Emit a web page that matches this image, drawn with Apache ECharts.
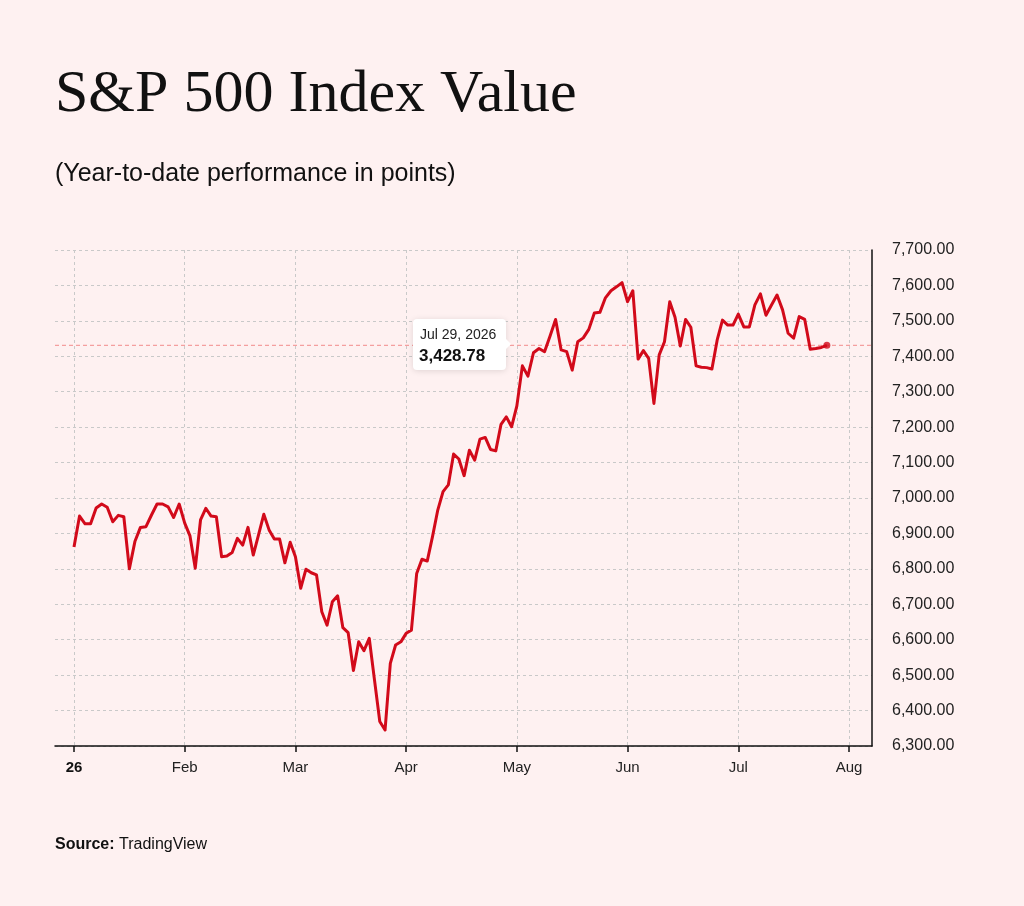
<!DOCTYPE html>
<html>
<head>
<meta charset="utf-8">
<title>S&amp;P 500 Index Value</title>
<script src="https://cdn.jsdelivr.net/npm/echarts@6/dist/echarts.min.js"></script>
<style>
  html, body { margin: 0; padding: 0; background: #fef1f1; }
  #chart { width: 1024px; height: 906px; }
</style>
</head>
<body>
<div id="chart"></div>
<script>
// tick labels on the time axis
var monthLabels = ['26', 'Feb', 'Mar', 'Apr', 'May', 'Jun', 'Jul', 'Aug'];
// trading-day slots per month (every month gets the same width on the axis)
var monthSlots = [20, 21, 21, 21, 20, 21, 20];

// daily closes
var jan = [6862, 6949, 6927, 6927, 6972, 6983, 6974, 6933, 6951, 6947,
           6800, 6877, 6917, 6919, 6952, 6983, 6983, 6975, 6945, 6983];
var feb = [6929, 6893, 6802, 6938, 6971, 6949, 6947, 6834, 6836, 6846,
           6886, 6867, 6917, 6839, 6896, 6954, 6910, 6884, 6884, 6817, 6875];
var mar = [6834, 6745, 6799, 6789, 6783, 6679, 6641, 6707, 6724, 6634,
           6620, 6513, 6594, 6569, 6604, 6486, 6369, 6345, 6533, 6585, 6594];
var apr = [6618, 6627, 6787, 6827, 6822, 6891, 6966, 7018, 7037, 7124,
           7110, 7063, 7135, 7107, 7166, 7171, 7137, 7133, 7208, 7229, 7201];
var may = [7260, 7373, 7344, 7410, 7422, 7413, 7457, 7504, 7418, 7413,
           7361, 7441, 7452, 7476, 7522, 7524, 7565, 7585, 7596, 7608];
var jun = [7554, 7585, 7392, 7416, 7394, 7267, 7404, 7441, 7554, 7510,
           7429, 7504, 7482, 7373, 7369, 7368, 7364, 7446, 7502, 7488, 7488];
var jul = [7519, 7483, 7483, 7545, 7576, 7516, 7545, 7573, 7531, 7465,
           7451, 7512, 7504, 7420, 7422, 7425, 7431];

var tipDate = 'Jul 29, 2026';
var tipValue = '3,428.78';

var yMin = 6300, yMax = 7700, yStep = 100;

var months = [jan, feb, mar, apr, may, jun, jul];
var points = [];
months.forEach(function (vals, m) {
    vals.forEach(function (v, k) {
        points.push([m + k / monthSlots[m], v]);
    });
});
var last = points[points.length - 1];

var red = '#d20a1a';
var ink = '#111111';
var gridLine = { show: true, lineStyle: { color: '#c9c9c9', width: 1, type: [3, 3] } };

var myChart = echarts.init(document.getElementById('chart'));
var option = {
    backgroundColor: '#fef1f1',
    animation: false,
    textStyle: { fontFamily: '"Liberation Sans", Arial, sans-serif' },
    grid: [
        // frame: y axis on the right, horizontal grid, bottom line
        { left: 55, right: 152, top: 250, bottom: 160 },
        // months: Jan 1 to Aug 1
        { left: 74, right: 175, top: 250, bottom: 160 }
    ],
    xAxis: [{
        gridIndex: 0, type: 'value', min: 0, max: 1,
        axisLine: { show: true, onZero: false, lineStyle: { color: ink, width: 1.5 } },
        axisTick: { show: false },
        axisLabel: { show: false },
        splitLine: { show: false }
    }, {
        gridIndex: 1, type: 'value', min: 0, max: 7, interval: 1,
        axisLine: { show: false, onZero: false },
        axisTick: { show: true, length: 6, lineStyle: { color: ink, width: 1.5 } },
        axisLabel: {
            margin: 14, fontSize: 15, color: '#222',
            formatter: function (v) {
                return v === 0 ? '{b|' + monthLabels[0] + '}' : monthLabels[v];
            },
            rich: { b: { fontSize: 15, fontWeight: 'bold', color: ink } }
        },
        splitLine: gridLine
    }],
    yAxis: [{
        gridIndex: 0, type: 'value', position: 'right',
        min: yMin, max: yMax, interval: yStep,
        axisLine: { show: true, onZero: false, lineStyle: { color: ink, width: 1.5 } },
        axisTick: { show: false },
        axisLabel: {
            margin: 20, fontSize: 16, color: '#222',
            formatter: function (v) {
                return v.toLocaleString('en-US', { minimumFractionDigits: 2, maximumFractionDigits: 2 });
            }
        },
        splitLine: gridLine
    }, {
        gridIndex: 1, type: 'value', min: yMin, max: yMax, show: false
    }],
    series: [{
        // crosshair at the latest value
        type: 'line', xAxisIndex: 0, yAxisIndex: 0,
        data: [[0, last[1]], [1, last[1]]],
        symbol: 'none', silent: true, z: 1,
        lineStyle: { color: '#f28b8b', width: 1, type: [4, 3] }
    }, {
        type: 'line', xAxisIndex: 1, yAxisIndex: 1,
        data: points,
        showSymbol: false, z: 3,
        lineStyle: { color: red, width: 3, join: 'round' }
    }, {
        type: 'scatter', xAxisIndex: 1, yAxisIndex: 1,
        data: [last],
        symbolSize: 7, z: 4,
        itemStyle: { color: red }
    }],
    graphic: [{
        type: 'text', x: 55, y: 95,
        style: { text: 'S&P 500 Index Value', font: '60px "Liberation Serif", "Times New Roman", serif', fill: ink, verticalAlign: 'middle' }
    }, {
        type: 'text', x: 55, y: 174,
        style: { text: '(Year-to-date performance in points)', font: '25px "Liberation Sans", Arial, sans-serif', fill: ink, verticalAlign: 'middle' }
    }, {
        type: 'text', x: 55, y: 845,
        style: {
            text: '{b|Source:} TradingView',
            font: '16px "Liberation Sans", Arial, sans-serif', fill: ink, verticalAlign: 'middle',
            rich: { b: { fontWeight: 'bold', fontSize: 16, fill: ink } }
        }
    },
    // tooltip box
    {
        type: 'rect', z: 100,
        shape: { x: 413, y: 319, width: 93, height: 51, r: 4 },
        style: { fill: '#ffffff', shadowBlur: 6, shadowColor: 'rgba(0,0,0,0.12)', shadowOffsetY: 1 }
    }, {
        type: 'polygon', z: 100,
        shape: { points: [[505, 338], [511, 344], [505, 350]] },
        style: { fill: '#ffffff' }
    }, {
        type: 'text', z: 101, x: 420, y: 335,
        style: { text: tipDate, font: '14px "Liberation Sans", Arial, sans-serif', fill: '#222', verticalAlign: 'middle' }
    }, {
        type: 'text', z: 101, x: 419, y: 356,
        style: { text: tipValue, font: 'bold 17px "Liberation Sans", Arial, sans-serif', fill: ink, verticalAlign: 'middle' }
    }]
};
myChart.setOption(option);
</script>
</body>
</html>
